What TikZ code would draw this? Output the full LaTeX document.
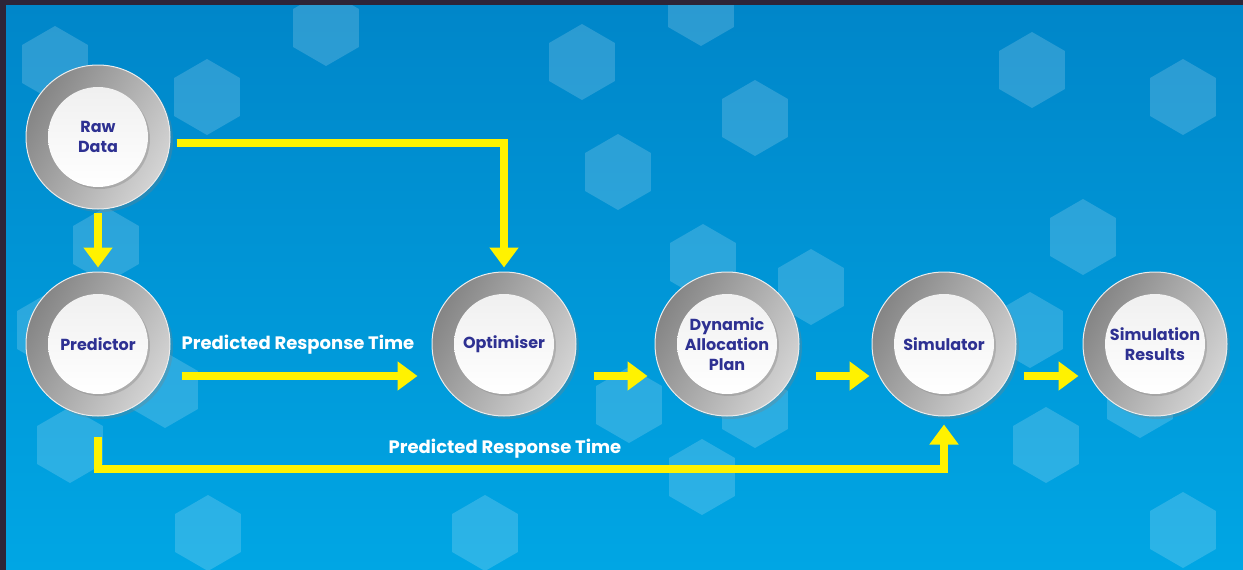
\documentclass[tikz,border=0pt]{standalone}
\usepackage{fontspec}
\setmainfont{Poppins}
\usetikzlibrary{arrows.meta,shadows}

\definecolor{bgtop}{HTML}{0086C9}
\definecolor{bgbottom}{HTML}{00A6E4}
\definecolor{frame}{HTML}{2E2538}
\definecolor{ringdark}{HTML}{858585}
\definecolor{ringlight}{HTML}{D4D4D4}
\definecolor{stagetext}{HTML}{2E3192}
\definecolor{flowyellow}{HTML}{FFF200}

\tikzset{
    hex/.style={fill=white, fill opacity=0.17},
    disc/.style={circle, minimum size=100pt, inner sep=0pt, align=center,
        top color=gray!12, bottom color=white, text=stagetext,
        font=\fontsize{16}{20}\selectfont\bfseries,
        drop shadow={opacity=0.35, shadow xshift=2pt, shadow yshift=-2pt}},
    stage/.style={circle, minimum size=144pt, inner sep=0pt,
        draw=white!85!gray, line width=1pt,
        left color=ringdark, right color=ringlight, shading angle=60,
        drop shadow={opacity=0.3, shadow xshift=3pt, shadow yshift=-3pt},
        label={[disc]center:#1}},
    flow/.style={draw=flowyellow, line width=8pt,
        -{Triangle[width=28pt, length=20pt]}},
    flowlbl/.style={text=white, font=\fontsize{18}{20}\selectfont\bfseries}
}

\begin{document}
\begin{tikzpicture}[x=1pt, y=-1pt]
            \useasboundingbox (0,0) rectangle (1243,570);
            \fill[frame] (0,0) rectangle (1243,570);
            \shade[top color=bgtop, bottom color=bgbottom] (6,5) rectangle (1243,570);
            \begin{scope}
            \clip (6,5) rectangle (1243,570);
            \foreach \x/\y in {55/64, 207/97, 326/28, 582/62, 618/172, 701/8, 755/118,
                    1032/70, 1183/97, 1083/237, 106/245, 703/262, 811/287, 1030/330,
                    50/330, 165/390, 70/445, 208/533, 485/533, 629/405, 755/410,
                    702/477, 1046/445, 1140/400, 1183/530}
                \fill[hex] (\x,\y) +(30:38) -- +(90:38) -- +(150:38) -- +(210:38)
                    -- +(270:38) -- +(330:38) -- cycle;
            \end{scope}

            \node[stage={Raw\\Data}] (raw) at (98,137) {};
            \node[stage={Predictor}] (pred) at (98,344) {};
            \node[stage={Optimiser}] (opt) at (504,344) {};
            \node[stage={Dynamic\\Allocation\\Plan}] (dyn) at (727,344) {};
            \node[stage={Simulator}] (sim) at (944,344) {};
            \node[stage={Simulation\\Results}] (res) at (1155,344) {};

            \draw[flow] ([xshift=6pt, yshift=-6pt]raw.east) -| ([yshift=4pt]opt.north);
            \draw[flow] ([yshift=-3pt]raw.south) -- ([yshift=4pt]pred.north);
            \draw[flow] ([xshift=11pt, yshift=-32pt]pred.east) -- ([xshift=-14pt, yshift=-32pt]opt.west);
            \draw[flow] ([xshift=17pt, yshift=-32pt]opt.east) -- ([xshift=-7pt, yshift=-32pt]dyn.west);
            \draw[flow] ([xshift=16pt, yshift=-32pt]dyn.east) -- ([xshift=-2pt, yshift=-32pt]sim.west);
            \draw[flow] ([xshift=7pt, yshift=-32pt]sim.east) -- ([xshift=-4pt, yshift=-32pt]res.west);
            \draw[flow] ([yshift=-20pt]pred.south) -- ++(0,32) -| ([yshift=-8pt]sim.south);

            \node[flowlbl] (toplbl) at (298,345) {Predicted Response Time};
            \node[flowlbl] (botlbl) at (505,449) {Predicted Response Time};
        \end{tikzpicture}
\end{document}
